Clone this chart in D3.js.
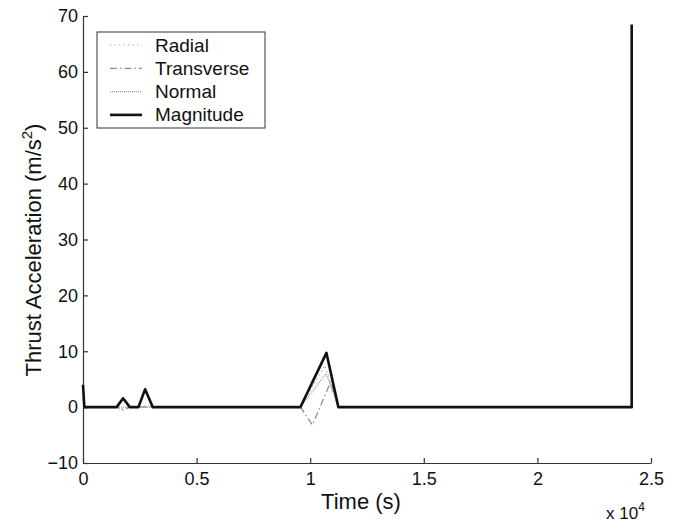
<!DOCTYPE html>
<html><head><meta charset="utf-8">
<script src="https://cdn.jsdelivr.net/npm/d3@7"></script>
<style>body{margin:0;background:#fff}svg{display:block}</style>
</head><body>
<svg id="c" width="674" height="525"></svg>
<script>
// ---- data ----
const xTicks = [0, 5000, 10000, 15000, 20000, 25000];
const xTickLabels = ["0", "0.5", "1", "1.5", "2", "2.5"];
const yTicks = [-10, 0, 10, 20, 30, 40, 50, 60, 70];
const seriesNames = ["Radial", "Transverse", "Normal", "Magnitude"];

const radialTime  = [0, 1480, 1760, 2060, 2450, 2740, 3070, 9570, 10650, 11240, 24150];
const radialValue = [0, 0, -0.7, 0, 0, 0.3, 0, 0, 7.5, 0, 0];

const transverseTime  = [0, 1480, 1760, 2060, 9570, 10100, 10900, 11240, 24150];
const transverseValue = [0, 0, -0.4, 0, 0, -3.2, 4.5, 0, 0];

const normalTime  = [0, 60, 9570, 10700, 11240, 24150];
const normalValue = [2, 0, 0, 6, 0, 0];

const magnitudeTime  = [0, 60, 1480, 1765, 2060, 2440, 2735, 3070, 9570, 10715, 11240, 24150, 24150];
const magnitudeValue = [4, 0, 0, 1.6, 0, 0, 3.2, 0, 0, 9.7, 0, 0, 68.5];

// ---- layout ----
const svg = d3.select("#c");
const L = 83, R = 651, T = 16, B = 463;
const x = d3.scaleLinear().domain([0, 25000]).range([L, R]);
const y = d3.scaleLinear().domain([-10, 70]).range([B, T]);
const font = "Liberation Sans, Arial, Helvetica, sans-serif";

// axes (MATLAB style, inward ticks, no box)
const xAxis = d3.axisBottom(x).tickValues(xTicks).tickFormat((d, i) => xTickLabels[i]).tickSizeInner(-5).tickSizeOuter(0).tickPadding(9);
const yAxis = d3.axisLeft(y).tickValues(yTicks).tickFormat(d => d < 0 ? "\u2212" + Math.abs(d) : d).tickSizeInner(-5).tickSizeOuter(0).tickPadding(5);

const gx = svg.append("g").attr("transform", `translate(0,${B})`).call(xAxis);
const gy = svg.append("g").attr("transform", `translate(${L},0)`).call(yAxis);
[gx, gy].forEach(g => {
  g.selectAll("path.domain").attr("stroke", "#333").attr("stroke-width", 1.2);
  g.selectAll(".tick line").attr("stroke", "#333").attr("stroke-width", 1.2);
  g.selectAll(".tick text").attr("font-family", font).attr("font-size", 18).attr("fill", "#111");
});

// lines
const line = d3.line().x(d => x(d[0])).y(d => y(d[1]));
function pts(t, v) { return t.map((tt, i) => [tt, v[i]]); }
const styles = {
  Radial:     {data: pts(radialTime, radialValue), stroke: "#b5b5b5", width: 1.2, dash: "1.5,3"},
  Transverse: {data: pts(transverseTime, transverseValue), stroke: "#8a8a8a", width: 1.2, dash: "7,3,1.5,3"},
  Normal:     {data: pts(normalTime, normalValue), stroke: "#9a9a9a", width: 1.2, dash: "1,1"},
  Magnitude:  {data: pts(magnitudeTime, magnitudeValue), stroke: "#111", width: 2.6, dash: null}
};
seriesNames.forEach(n => {
  const s = styles[n];
  svg.append("path").datum(s.data).attr("d", line)
    .attr("fill", "none").attr("stroke", s.stroke).attr("stroke-width", s.width)
    .attr("stroke-dasharray", s.dash).attr("stroke-linejoin", "round");
});

// legend
const lg = svg.append("g");
lg.append("rect").attr("x", 97).attr("y", 32).attr("width", 168).attr("height", 96)
  .attr("fill", "#fff").attr("stroke", "#333").attr("stroke-width", 1);
seriesNames.forEach((n, i) => {
  const s = styles[n];
  const yy = 45 + i * 23.3;
  lg.append("line").attr("x1", 110).attr("x2", 142).attr("y1", yy).attr("y2", yy)
    .attr("stroke", s.stroke).attr("stroke-width", s.width).attr("stroke-dasharray", s.dash);
  lg.append("text").attr("x", 155).attr("y", yy + 6.5).text(n)
    .attr("font-family", font).attr("font-size", 19).attr("fill", "#111");
});

// axis labels
svg.append("text").attr("x", 361).attr("y", 509).attr("text-anchor", "middle")
  .attr("font-family", font).attr("font-size", 22).attr("fill", "#111").text("Time (s)");
const yl = svg.append("text").attr("transform", `translate(41,250) rotate(-90)`)
  .attr("text-anchor", "middle").attr("font-family", font).attr("font-size", 22).attr("fill", "#111");
yl.append("tspan").text("Thrust Acceleration (m/s");
yl.append("tspan").attr("dy", -9).attr("font-size", 15).text("2");
yl.append("tspan").attr("dy", 9).text(")");

const ex = svg.append("text").attr("x", 606).attr("y", 519).attr("font-family", font)
  .attr("font-size", 17).attr("fill", "#111");
ex.append("tspan").text("x 10");
ex.append("tspan").attr("dy", -8).attr("font-size", 12).text("4");
</script>
</body></html>
